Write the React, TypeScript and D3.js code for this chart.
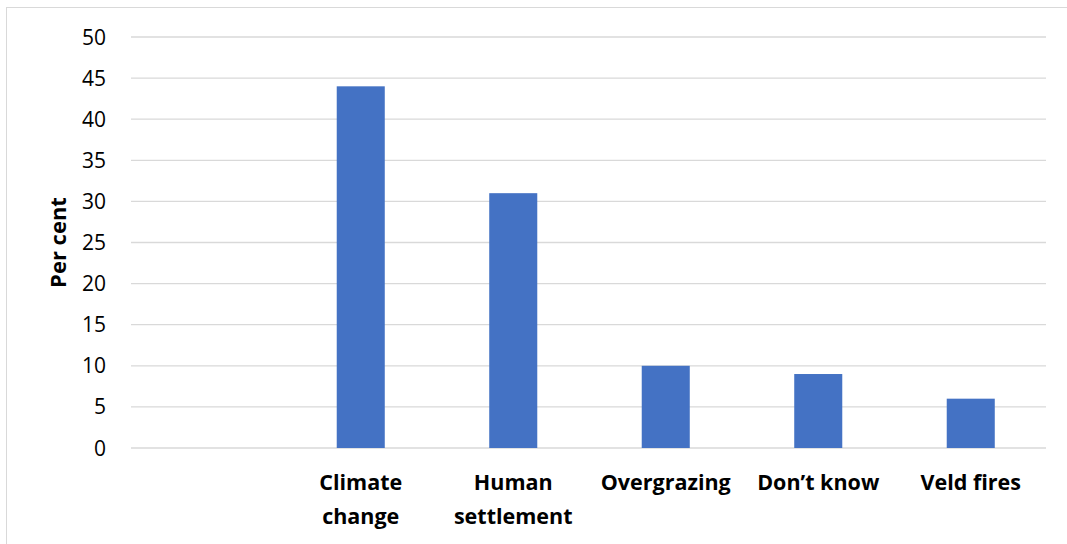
import React from "react";
import * as d3 from "d3";

const categories = ["", "Climate change", "Human settlement", "Overgrazing", "Don\u2019t know", "Veld fires"];
const labelLines = [[], ["Climate", "change"], ["Human", "settlement"], ["Overgrazing"], ["Don\u2019t know"], ["Veld fires"]];
const values = [null, 44, 31, 10, 9, 6];
const yTicks = [0, 5, 10, 15, 20, 25, 30, 35, 40, 45, 50];

const W = 1067;
const H = 544;
const plot = { left: 131, right: 1046, top: 37, bottom: 448 };
const font = "'Open Sans', sans-serif";

export default function App() {
  const x = d3.scaleBand().domain(categories.map((c, i) => String(i))).range([plot.left, plot.right]).paddingInner(0.685).paddingOuter(0.3425);
  const y = d3.scaleLinear().domain([0, 50]).range([plot.bottom, plot.top]);

  return (
    <svg width={W} height={H} style={{ position: "fixed", left: 0, top: 0, background: "#fff" }}>
      {/* chart frame; its right and bottom edges run past the visible area */}
      <rect x={6.5} y={7.5} width={1080} height={560} fill="#fff" stroke="#d9d9d9" strokeWidth={1} />
      {yTicks.map((t) => (
        <g key={t}>
          <line x1={plot.left} x2={plot.right} y1={y(t)} y2={y(t)} stroke="#d9d9d9" strokeWidth={1.3} />
          <text x={106} y={y(t)} dy="0.36em" textAnchor="end" fontFamily={font} fontSize={21} fill="#000">
            {t}
          </text>
        </g>
      ))}
      {values.map((v, i) =>
        v == null ? null : (
          <rect
            key={i}
            x={(x(String(i)) as number) + 1}
            y={y(v)}
            width={x.bandwidth()}
            height={y(0) - y(v)}
            fill="#4472c4"
          />
        )
      )}
      {labelLines.map((lines, i) => (
        <text key={i} textAnchor="middle" fontFamily={font} fontSize={21.5} fontWeight="bold" fill="#000">
          {lines.map((l, j) => (
            <tspan key={j} x={(x(String(i)) as number) + 1 + x.bandwidth() / 2} y={490 + j * 34}>
              {l}
            </tspan>
          ))}
        </text>
      ))}
      <text
        transform={`translate(66,${(plot.top + plot.bottom) / 2}) rotate(-90)`}
        textAnchor="middle"
        fontFamily={font}
        fontSize={22}
        fontWeight="bold"
        fill="#000"
      >
        Per cent
      </text>
    </svg>
  );
}
